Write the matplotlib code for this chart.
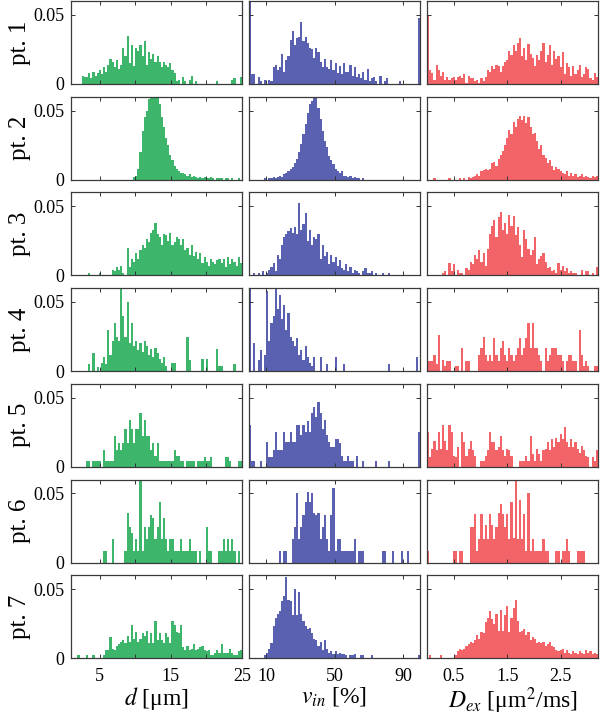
import matplotlib
matplotlib.use("Agg")
import matplotlib.pyplot as plt
import numpy as np

plt.rcParams["font.family"] = ["Liberation Serif", "DejaVu Serif"]
plt.rcParams["mathtext.fontset"] = "stix"

# bin heights (x 1e-3), 80 bins per panel
d_pt1 = [0, 0, 0, 0, 0, 6, 5, 5, 8, 4, 9, 6, 8, 10, 7, 12, 9, 14, 18, 16, 12, 17, 11, 14, 26, 20, 35, 15, 28,
         13, 26, 24, 28, 20, 31, 14, 23, 18, 22, 16, 20, 16, 12, 16, 14, 12, 15, 10, 8, 2, 3, 0, 5,
         2, 0, 3, 6, 0, 2, 0, 0, 0, 0, 0, 0, 0, 0, 0, 2, 0, 0, 0, 0, 0, 0, 3, 4, 0, 0, 5]
d_pt2 = [0] * 28 + [0, 2, 3, 8, 20, 35, 45, 50, 58, 65, 70, 62, 68, 55, 45, 38, 30, 25,
                    18, 14, 10, 8, 6, 5, 5, 4, 3, 4, 2, 3, 2, 1, 2, 1, 2, 1, 1, 2, 1, 0, 1, 1,
                    1, 0, 1, 1, 0, 1, 0, 0, 1, 0]
d_pt3 = [0] * 8 + [2, 0, 0, 0, 0, 2, 0, 0, 0, 0, 0, 4, 3, 6, 4, 7, 2, 0, 20, 6, 12, 10, 16, 12, 18, 22, 20,
                   26, 24, 31, 33, 38, 30, 28, 22, 30, 29, 25, 31, 22, 24, 28, 26, 22, 26, 18, 20, 15, 22, 14, 17,
                   12, 16, 9, 13, 10, 7, 12, 10, 8, 11, 12, 9, 12, 6, 13, 8, 12, 10, 7, 13, 9]
d_pt4 = [0] * 8 + [5, 0, 13, 0, 3, 0, 6, 10, 5, 30, 12, 22, 35, 25, 22, 65, 40, 25, 50, 20, 35, 18, 22, 15,
                   20, 14, 22, 18, 12, 16, 10, 17, 13, 9, 6, 10, 4, 0, 0, 6, 6, 0, 0, 0, 0, 0, 25, 8,
                   0, 0, 0, 0, 0, 9, 0, 9, 0, 0, 0, 0, 16, 4, 4, 0, 0, 0, 0, 0, 5, 0, 0, 0]
d_pt5 = [0] * 7 + [4, 4, 0, 4, 4, 4, 4, 0, 12, 4, 4, 4, 4, 22, 12, 17, 12, 17, 27, 17, 34, 27, 17, 27, 27,
                   39, 22, 34, 22, 22, 12, 17, 8, 17, 4, 4, 4, 4, 4, 4, 4, 12, 8, 8, 4, 4, 0, 4, 4,
                   4, 4, 0, 4, 4, 4, 7, 4, 4, 7, 0, 0, 0, 0, 0, 0, 7, 7, 4, 0, 0, 0, 4, 4]
d_pt6 = [0] * 14 + [0, 8, 8, 0, 0, 17, 0, 0, 0, 0, 0, 8, 36, 26, 21, 8, 17, 8, 60, 8, 26, 17, 26, 34,
                    32, 17, 26, 44, 17, 32, 17, 8, 17, 17, 8, 8, 8, 17, 8, 8, 8, 17, 8, 8, 8, 0, 8, 0,
                    0, 26, 8, 8, 0, 0, 0, 8, 8, 17, 8, 17, 8, 17, 8, 0, 8, 0]
d_pt7 = [0, 0, 0, 2, 0, 0, 0, 2, 0, 0, 2, 0, 0, 0, 0, 2, 6, 6, 15, 7, 6, 9, 10, 12,
         13, 11, 16, 12, 24, 14, 19, 12, 14, 18, 16, 20, 11, 18, 11, 27, 13, 18, 13, 11, 18, 15, 11, 27,
         24, 19, 18, 24, 8, 6, 9, 6, 7, 10, 6, 7, 8, 9, 6, 5, 6, 2, 2, 4, 6, 4, 10, 4,
         4, 4, 7, 4, 2, 2, 5, 6]

v_pt1 = [70, 7, 7, 0, 5, 2, 0, 3, 0, 3, 2, 12, 14, 10, 12, 22, 9, 17, 20, 32, 38, 28, 33, 34, 45, 31, 34,
         30, 26, 25, 19, 26, 23, 16, 12, 18, 12, 11, 17, 10, 15, 8, 13, 7, 15, 9, 9, 14, 6, 12, 5,
         7, 4, 9, 3, 11, 2, 4, 5, 2, 0, 6, 0, 2, 4, 0, 0, 0, 0, 0, 2, 0, 0, 0, 0, 0, 0, 0, 0, 48]
v_pt2 = [0, 0, 0, 0, 0, 0, 0, 1, 0, 1, 1, 2, 1, 2, 3, 2, 4, 5, 6, 8, 9, 12, 15, 20, 26,
         33, 40, 48, 55, 57, 62, 60, 52, 44, 35, 28, 24, 17, 14, 11, 8, 6, 5, 6, 3, 3, 2, 3, 1,
         2, 1, 1, 0, 1, 0, 0, 0] + [0] * 23
v_pt3 = [0, 0, 2, 0, 2, 0, 3, 0, 2, 4, 6, 9, 3, 15, 12, 22, 28, 30, 32, 34, 31, 35, 30, 52, 33,
         37, 45, 25, 33, 22, 28, 26, 30, 12, 22, 14, 17, 8, 15, 10, 13, 7, 11, 5, 4, 8, 3, 6, 2,
         4, 3, 2, 0, 3, 5, 2, 2, 3, 0, 2, 0, 0, 2, 0, 0, 2] + [0] * 14
v_pt4 = [65, 0, 20, 0, 8, 15, 0, 12, 58, 22, 35, 40, 60, 45, 55, 38, 48, 30, 42, 25, 22, 18, 24, 12,
         15, 8, 18, 10, 6, 4, 10, 0, 0, 10, 0, 0, 5, 0, 0, 0, 10, 0, 0, 0, 5, 0, 0, 0] + [0] * 16 + \
        [0, 5, 0, 0, 0, 0, 0, 0, 0, 0, 0, 0, 0, 0, 10, 0]
v_pt5 = [30, 4, 4, 0, 0, 4, 0, 0, 18, 7, 7, 12, 25, 12, 12, 12, 25, 18, 18, 25, 18, 18, 30, 30,
         23, 30, 25, 33, 25, 39, 43, 36, 47, 39, 27, 34, 23, 18, 14, 14, 20, 20, 17, 8, 4, 4, 8, 4,
         4, 0, 8, 0, 0, 4, 0, 0, 0, 0, 0, 4, 0, 0, 0, 0, 0, 4, 0, 0, 0, 0, 0, 0,
         0, 0, 0, 0, 0, 0, 0, 25]
v_pt6 = [0] * 14 + [8, 0, 8, 8, 0, 0, 17, 26, 50, 17, 26, 34, 44, 51, 44, 50, 36, 34, 36, 17, 26, 34, 17, 8,
                    34, 54, 8, 17, 17, 8, 8, 8, 8, 8, 8, 17, 0, 8, 8, 8, 0, 0, 0, 0, 0, 0, 0, 0,
                    8, 8, 0, 0, 0, 8, 0, 0, 0, 8, 0, 0, 8, 0, 0, 0, 0, 0]
v_pt7 = [0, 0, 0, 0, 0, 0, 0, 2, 4, 7, 11, 23, 29, 32, 34, 41, 45, 59, 42, 41, 31, 50, 31, 48,
         32, 27, 23, 21, 22, 18, 14, 13, 9, 12, 6, 13, 7, 4, 5, 3, 5, 3, 4, 3, 3, 2, 0, 2,
         2, 3, 0, 0, 2, 2, 0, 0, 0, 2, 0, 0, 0, 0, 0, 0] + [0] * 8 + [0, 0, 0, 0, 0, 0, 0, 2]

D_pt1 = [49, 10, 8, 3, 14, 10, 6, 9, 3, 5, 3, 4, 5, 3, 5, 6, 4, 7, 1, 6, 4, 4, 2, 3, 1, 4, 2,
         5, 10, 9, 13, 11, 14, 13, 9, 13, 16, 17, 24, 21, 28, 24, 30, 33, 20, 26, 17, 29, 22, 19, 13,
         21, 17, 24, 30, 16, 21, 28, 14, 24, 18, 20, 12, 23, 7, 15, 12, 6, 13, 7, 10, 14, 5, 7, 12,
         11, 4, 3, 8, 5]
D_pt2 = [0, 0, 0, 1, 0, 0, 0, 0, 0, 0, 1, 0, 0, 0, 0, 1, 0, 1, 0, 2, 1, 2, 3, 4, 3, 6, 7, 8, 7, 8, 12,
         13, 10, 15, 18, 21, 25, 30, 36, 33, 42, 38, 44, 46, 43, 46, 41, 45, 38, 33, 34, 28, 22, 25, 18,
         16, 12, 14, 10, 7, 9, 8, 6, 5, 4, 6, 3, 5, 3, 4, 2, 3, 4, 2, 3, 2, 1, 3, 2, 3]
D_pt3 = [0, 0, 0, 0, 0, 0, 0, 2, 3, 0, 9, 3, 8, 0, 4, 2, 2, 0, 5, 4, 10, 8, 15, 12,
         18, 10, 16, 7, 19, 30, 36, 40, 28, 42, 46, 33, 38, 30, 44, 36, 43, 29, 35, 22, 13, 33, 26, 19,
         15, 18, 28, 8, 12, 14, 16, 10, 5, 6, 3, 4, 2, 9, 4, 7, 3, 5, 2, 3, 2, 2, 0, 0,
         4, 0, 3, 3, 0, 2, 0, 6]
D_pt4 = [7, 7, 7, 12, 5, 26, 0, 8, 4, 7, 7, 0, 0, 4, 4, 0, 17, 0, 7, 7, 0, 0, 0, 0,
         12, 17, 25, 12, 7, 12, 7, 24, 12, 7, 17, 22, 12, 7, 17, 12, 7, 12, 17, 24, 12, 17, 24, 35,
         17, 35, 17, 17, 12, 7, 0, 17, 7, 12, 17, 17, 17, 12, 12, 7, 0, 7, 12, 12, 7, 7, 0, 30,
         12, 4, 7, 4, 0, 0, 4, 4]
D_pt5 = [25, 7, 13, 19, 12, 25, 13, 30, 19, 12, 30, 25, 8, 7, 14, 0, 25, 18, 8, 13, 19, 12, 8, 0,
         0, 4, 4, 8, 12, 25, 18, 18, 12, 14, 22, 12, 8, 13, 12, 8, 0, 0, 0, 4, 4, 4, 8, 4,
         22, 9, 4, 13, 9, 4, 12, 13, 18, 12, 20, 14, 21, 18, 24, 20, 29, 18, 14, 20, 14, 18, 13, 10,
         15, 12, 8, 7, 0, 7, 4, 12]
D_pt6 = [8, 0, 0, 0, 0, 0, 0, 0, 0, 0, 0, 0, 8, 8, 0, 8, 8, 0, 0, 0, 26, 26, 35, 8,
         17, 35, 17, 27, 17, 35, 27, 17, 26, 36, 42, 35, 26, 35, 17, 44, 18, 60, 17, 45, 17, 35, 8, 50,
         8, 17, 8, 8, 8, 8, 17, 8, 8, 0, 0, 0, 8, 8, 0, 8, 8, 17, 8, 0, 0, 0, 8, 8,
         8, 8, 0, 0, 0, 0, 0, 0]
D_pt7 = [0, 2, 0, 0, 0, 0, 2, 0, 0, 0, 0, 0, 0, 2, 5, 7, 6, 7, 9, 10, 12, 11, 13, 17,
         14, 19, 18, 26, 29, 34, 28, 25, 32, 20, 35, 20, 31, 38, 19, 29, 36, 42, 27, 19, 20, 21, 17, 19,
         13, 15, 14, 11, 12, 11, 12, 9, 10, 12, 9, 8, 6, 5, 6, 7, 4, 6, 4, 3, 5, 4, 3, 5,
         4, 3, 6, 4, 5, 3, 4, 3]

d_rows = [d_pt1, d_pt2, d_pt3, d_pt4, d_pt5, d_pt6, d_pt7]
v_rows = [v_pt1, v_pt2, v_pt3, v_pt4, v_pt5, v_pt6, v_pt7]
D_rows = [D_pt1, D_pt2, D_pt3, D_pt4, D_pt5, D_pt6, D_pt7]

row_labels = ["pt. 1", "pt. 2", "pt. 3", "pt. 4", "pt. 5", "pt. 6", "pt. 7"]
x_labels = [r"$d$ [μm]", r"$v_{in}$ [%]", r"$D_{ex}$ [μm$^2$/ms]"]
x_limits = [(1, 25), (0, 100), (0, 3.2)]
x_ticks = [[5, 10, 15, 20, 25], [10, 50, 90], [0.5, 1.5, 2.5]]
x_ticklabels = [["5", "", "15", "", "25"], ["10", "50", "90"], ["0.5", "1.5", "2.5"]]
colors = ["#3db56a", "#5a61b0", "#f26468"]

# figure in pixels: 600 x 715
fig = plt.figure(figsize=(6, 7.15), dpi=100)
W, H = 600.0, 715.0
lefts = [71, 249, 427]
ax_w, ax_h = 171, 83
row_step = 95.7

for r in range(7):
    top = 1 + row_step * r
    for c, rows in enumerate([d_rows, v_rows, D_rows]):
        ax = fig.add_axes([lefts[c] / W, 1 - (top + ax_h) / H, ax_w / W, ax_h / H])
        vals = np.array(rows[r]) / 1000.0
        lo, hi = x_limits[c]
        edges = np.linspace(lo, hi, len(vals) + 1)
        ax.stairs(vals, edges, fill=True, color=colors[c], linewidth=0)

        ax.set_xlim(lo, hi)
        ax.set_ylim(0, 0.06)
        ax.set_yticks([0, 0.05])
        ax.set_xticks(x_ticks[c])
        if c == 0:
            ax.set_yticklabels(["0", "0.05"], fontsize=13)
        else:
            ax.set_yticklabels([])
        if r == 6:
            ax.set_xticklabels(x_ticklabels[c], fontsize=13)
            ax.set_xlabel(x_labels[c], fontsize=17, labelpad=0)
        else:
            ax.set_xticklabels([])
        ax.tick_params(direction="in", length=3, width=0.7, top=True, right=True,
                       color="#333333")
        ax.tick_params(axis="x", pad=7)
        ax.tick_params(axis="y", pad=5)
        for sp in ax.spines.values():
            sp.set_color("#3a3a3a")
            sp.set_linewidth(0.9)

    fig.text(20 / W, 1 - (top + ax_h / 2) / H, row_labels[r], rotation=90,
             ha="center", va="center", fontsize=18)

fig.savefig("out.png", dpi=100)
